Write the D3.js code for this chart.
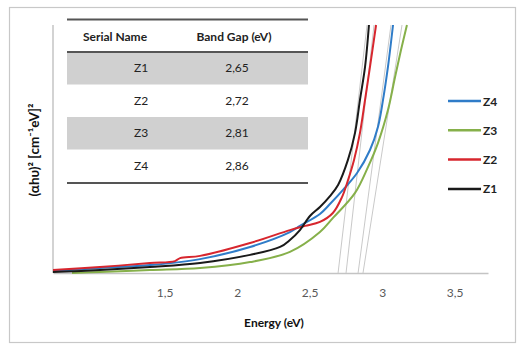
<!DOCTYPE html>
<html><head><meta charset="utf-8">
<script src="https://cdn.jsdelivr.net/npm/d3@7"></script>
<style>body{margin:0;background:#fff}svg{display:block}text{font-family:Lato,"Open Sans",sans-serif}</style>
</head><body><svg id="c" width="517" height="345"></svg>
<script>
const seriesNames = ["Z4","Z3","Z2","Z1"];
const seriesColors = {Z4:"#2f7cc8", Z3:"#86b04a", Z2:"#d7262e", Z1:"#1a1a1a"};
const xTicks = [1.5,2,2.5,3,3.5];
const xTickLabels = ["1,5","2","2,5","3","3,5"];
const tableNames = ["Z1","Z2","Z3","Z4"];
const tableGaps = ["2,65","2,72","2,81","2,86"];
// [energy eV, (αhυ)² arbitrary units]
const z1 = [[0.73,0.4],[1.054,1.2],[1.399,2.4],[1.744,4.0],[2.089,7.3],[2.296,10.5],[2.364,13.3],[2.433,17.3],[2.502,23.0],[2.571,26.6],[2.640,31.0],[2.696,35.5],[2.764,45.6],[2.813,56.5],[2.847,69.8],[2.882,83.1],[2.909,100]];
const z2 = [[0.73,1.2],[1.054,2.4],[1.399,4.0],[1.571,4.8],[1.606,6.0],[1.744,6.9],[2.089,12.1],[2.364,17.3],[2.468,19.0],[2.571,20.6],[2.660,24.2],[2.723,30.6],[2.762,37.0],[2.806,45.6],[2.847,56.5],[2.882,69.8],[2.916,83.1],[2.958,100]];
const z3 = [[0.861,0],[1.054,0.4],[1.399,1.2],[1.744,2.0],[2.089,4.4],[2.364,8.5],[2.571,16.5],[2.661,22.2],[2.813,32.3],[2.902,42.7],[2.971,52.4],[3.040,65.7],[3.089,79.0],[3.130,89.9],[3.171,100]];
const z4 = [[0.73,0.8],[1.054,2.0],[1.399,3.2],[1.744,5.6],[2.089,10.5],[2.364,16.5],[2.433,19.0],[2.571,23.8],[2.640,27.8],[2.730,33.5],[2.827,40.3],[2.916,49.6],[2.971,58.9],[3.006,69.8],[3.040,83.1],[3.075,100]];
const seriesData = {Z1:z1, Z2:z2, Z3:z3, Z4:z4};
// extrapolation lines [x at 0, x at top]
const tangents = [[2.696,2.896],[2.751,2.944],[2.834,3.061],[2.868,3.137]];

const svg = d3.select("#c");
const x = d3.scaleLinear().domain([0.73,3.73]).range([53,488]);
const y = d3.scaleLinear().domain([0,100]).range([273,25]);

svg.append("rect").attr("x",9.5).attr("y",7.5).attr("width",506).attr("height",335)
  .attr("fill","none").attr("stroke","#c8c8c8").attr("stroke-width",1.2);

// axes
svg.append("line").attr("x1",53).attr("x2",53).attr("y1",25).attr("y2",273).attr("stroke","#c4c4c4").attr("stroke-width",1.5);
const xa = svg.append("g").attr("transform","translate(0,273)")
  .call(d3.axisBottom(x).tickValues(xTicks).tickSize(0).tickPadding(15).tickFormat((d,i)=>xTickLabels[i]));
xa.select(".domain").attr("stroke","#c4c4c4").attr("stroke-width",1.5);
xa.selectAll("text").attr("font-size",12).attr("fill","#595959").attr("font-family","Lato,sans-serif");

// tangent lines
svg.append("g").selectAll("line").data(tangents).join("line")
  .attr("x1",d=>x(d[0])).attr("y1",y(0)).attr("x2",d=>x(d[1])).attr("y2",y(100))
  .attr("stroke","#c9c9c9").attr("stroke-width",1);

const line = d3.line().x(d=>x(d[0])).y(d=>y(d[1])).curve(d3.curveCatmullRom.alpha(0.5));
const order = ["Z3","Z4","Z2","Z1"];
svg.append("g").selectAll("path").data(order).join("path")
  .attr("d",k=>line(seriesData[k])).attr("fill","none")
  .attr("stroke",k=>seriesColors[k]).attr("stroke-width",2);

// table
const tx0 = 67, tx1 = 308, rowH = 32.5, headY = 52;
tableNames.forEach((n,i)=>{
  if(i%2===0) svg.append("rect").attr("x",tx0).attr("y",headY+i*rowH).attr("width",tx1-tx0).attr("height",rowH).attr("fill","#d0d0d0");
  svg.append("text").attr("x",141).attr("y",headY+i*rowH+rowH/2+4).attr("text-anchor","middle").attr("font-size",12).attr("fill","#222").text(n);
  svg.append("text").attr("x",237).attr("y",headY+i*rowH+rowH/2+4).attr("text-anchor","middle").attr("font-size",12).attr("fill","#222").text(tableGaps[i]);
});
svg.append("line").attr("x1",tx0).attr("x2",tx1).attr("y1",19.5).attr("y2",19.5).attr("stroke","#555").attr("stroke-width",2);
svg.append("line").attr("x1",tx0).attr("x2",tx1).attr("y1",headY).attr("y2",headY).attr("stroke","#555").attr("stroke-width",2);
svg.append("line").attr("x1",tx0).attr("x2",tx1).attr("y1",headY+4*rowH+1).attr("y2",headY+4*rowH+1).attr("stroke","#555").attr("stroke-width",2);
svg.append("text").attr("x",115).attr("y",41).attr("text-anchor","middle").attr("font-size",12).attr("font-weight","bold").attr("fill","#222").text("Serial Name");
svg.append("text").attr("x",234).attr("y",41).attr("text-anchor","middle").attr("font-size",12).attr("font-weight","bold").attr("fill","#222").text("Band Gap (eV)");

// legend
seriesNames.forEach((k,i)=>{
  const ly = 101 + i*29.3;
  svg.append("line").attr("x1",448).attr("x2",481).attr("y1",ly).attr("y2",ly).attr("stroke",seriesColors[k]).attr("stroke-width",2.5);
  svg.append("text").attr("x",483).attr("y",ly+4.5).attr("font-size",12).attr("font-weight","bold").attr("fill","#222").text(k);
});

// axis titles
svg.append("text").attr("x",274).attr("y",327).attr("text-anchor","middle").attr("font-size",12).attr("font-weight","bold").attr("fill","#111").text("Energy (eV)");
svg.append("text").attr("transform","translate(39,150) rotate(-90)").attr("text-anchor","middle").attr("font-size",13.5).attr("font-weight","bold").attr("fill","#111").text("(αhυ)²  [cm⁻¹eV]²");
</script></body></html>
